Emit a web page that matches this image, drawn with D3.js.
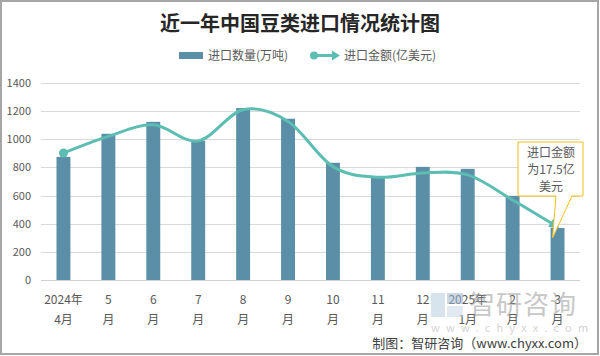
<!DOCTYPE html>
<html><head><meta charset="utf-8">
<script src="https://cdn.jsdelivr.net/npm/d3@7"></script>
<style>
html,body{margin:0;padding:0;background:#fff;}
svg{display:block;font-family:"Noto Sans CJK SC","Microsoft YaHei",sans-serif;}
</style></head>
<body>
<svg id="c" width="600" height="356"></svg>
<script>
const categories = ["2024年\n4月","5\n月","6\n月","7\n月","8\n月","9\n月","10\n月","11\n月","12\n月","2025年\n1月","2\n月","3\n月"];
const quantity = [875, 1039, 1124, 989, 1222, 1146, 833, 738, 804, 790, 598, 370];   // 万吨
const amount   = [41.9, 47.4, 51.2, 45.9, 56.2, 52.3, 37.4, 33.9, 35.3, 34.7, 26.4, 17.5]; // 亿美元
const yTicks = [0,200,400,600,800,1000,1200,1400];
const title = "近一年中国豆类进口情况统计图";
const legendNames = ["进口数量(万吨)", "进口金额(亿美元)"];
const calloutLines = ["进口金额", "为17.5亿", "美元"];

const barColor = "#5b8fa7", lineColor = "#5cbdb3", textColor = "#595959";
const svg = d3.select("#c");
const M = {l:41, r:580, t:83, b:280};

svg.append("rect").attr("x",1).attr("y",1).attr("width",597).attr("height",353)
  .attr("fill","#fff").attr("stroke","#a6a6a6").attr("stroke-width",2);

const x = d3.scaleBand().domain(categories).range([M.l, M.r]).paddingInner(0.69).paddingOuter(0.345);
const y = d3.scaleLinear().domain([0,1400]).range([M.b, M.t]);
const y2 = d3.scaleLinear().domain([0,65]).range([M.b, M.t]);

// title
svg.append("text").attr("x",300).attr("y",31).attr("text-anchor","middle")
  .attr("font-size",20).attr("font-weight","bold").attr("fill","#262626").text(title);

// legend
const lg = svg.append("g").attr("font-size",12).attr("fill",textColor);
lg.append("rect").attr("x",179).attr("y",52).attr("width",24).attr("height",7).attr("fill",barColor);
lg.append("text").attr("x",208).attr("y",60).text(legendNames[0]);
lg.append("line").attr("x1",314).attr("x2",334).attr("y1",55.5).attr("y2",55.5).attr("stroke",lineColor).attr("stroke-width",3);
lg.append("circle").attr("cx",314).attr("cy",55.5).attr("r",4).attr("fill",lineColor);
lg.append("path").attr("d","M332,50.5 L340,55.5 L332,60.5 Z").attr("fill",lineColor);
lg.append("text").attr("x",344).attr("y",60).text(legendNames[1]);

// grid
const grid = svg.append("g");
grid.selectAll("line").data(yTicks).join("line")
  .attr("x1",M.l).attr("x2",M.r).attr("y1",d=>Math.round(y(d))+0.5).attr("y2",d=>Math.round(y(d))+0.5)
  .attr("stroke",d=>d===0?"#d0d0d0":"#d9d9d9").attr("stroke-width",1);

// y axis labels
const yAxis = d3.axisLeft(y).tickValues(yTicks).tickFormat(d3.format("d")).tickSize(0).tickPadding(0);
const ya = svg.append("g").attr("transform","translate(31,0)").call(yAxis);
ya.select(".domain").remove();
ya.selectAll("text").attr("font-size",11).attr("fill",textColor).attr("font-family","Noto Sans CJK SC, sans-serif");

// x axis labels
const xAxis = d3.axisBottom(x).tickSize(0).tickPadding(0);
const xa = svg.append("g").attr("transform",`translate(0,${M.b})`).call(xAxis);
xa.select(".domain").remove();
xa.selectAll(".tick text").each(function(d){
  const t = d3.select(this); const parts = d.split("\n");
  t.text(null).attr("font-size",12).attr("fill",textColor).attr("font-family","Noto Sans CJK SC, sans-serif").attr("y",0).attr("dy",null);
  parts.forEach((p,i)=>t.append("tspan").attr("x",0).attr("y",i===0?24:44).text(p));
});

// bars
svg.append("g").selectAll("rect").data(quantity).join("rect")
  .attr("x",(d,i)=>x(categories[i])).attr("width",x.bandwidth())
  .attr("y",d=>y(d)).attr("height",d=>y(0)-y(d)).attr("fill",barColor);

// line
const defs = svg.append("defs");
defs.append("marker").attr("id","arr").attr("viewBox","0 0 10 10").attr("refX",8).attr("refY",5)
  .attr("markerWidth",3.4).attr("markerHeight",3.4).attr("orient","auto").attr("markerUnits","strokeWidth")
  .append("path").attr("d","M0,0 L10,5 L0,10 Z").attr("fill",lineColor);
const cx = i => x(categories[i]) + x.bandwidth()/2;
const line = d3.line().x((d,i)=>cx(i)).y(d=>y2(d)).curve(d3.curveCardinal.tension(0));
svg.append("path").datum(amount).attr("d",line).attr("fill","none")
  .attr("stroke",lineColor).attr("stroke-width",3).attr("marker-end","url(#arr)");
svg.append("circle").attr("cx",cx(0)).attr("cy",y2(amount[0])).attr("r",4.5).attr("fill",lineColor);

// callout
const last = amount.length-1;
const tipX = cx(last)-5, tipY = y2(amount[last])+11;
const bx0=518, bx1=583, by0=142, by1=196;
svg.append("path").attr("d",`M${bx0},${by0} L${bx1},${by0} L${bx1},${by1} L572,${by1} L${tipX},${tipY} L556,${by1} L${bx0},${by1} Z`)
  .attr("fill","#fff").attr("stroke","#f5bf18").attr("stroke-width",1);
const ct = svg.append("text").attr("text-anchor","middle").attr("font-size",12).attr("fill",textColor);
calloutLines.forEach((s,i)=>ct.append("tspan").attr("x",551).attr("y",157+i*17).text(s));

// watermark
const wm = svg.append("g").attr("opacity",0.55);
wm.append("rect").attr("x",431).attr("y",293).attr("width",14).attr("height",24).attr("fill","#b8cde0");
wm.append("rect").attr("x",447).attr("y",293).attr("width",16).attr("height",11).attr("fill","#9fb9d3");
wm.append("rect").attr("x",447).attr("y",306).attr("width",16).attr("height",11).attr("fill","#c9d8e6");
wm.append("text").attr("x",469).attr("y",314).attr("font-size",26).attr("fill","#9a9a9a").attr("letter-spacing",1).text("智研咨询");
wm.append("text").attr("x",431).attr("y",332).attr("font-size",11).attr("fill","#b0b0b0").attr("letter-spacing",6.2).text("www.chyxx.com");

// footer
svg.append("text").attr("x",587).attr("y",348).attr("text-anchor","end").attr("font-size",13).attr("fill","#404040")
  .text("制图：智研咨询（www.chyxx.com）");
</script>
</body></html>
